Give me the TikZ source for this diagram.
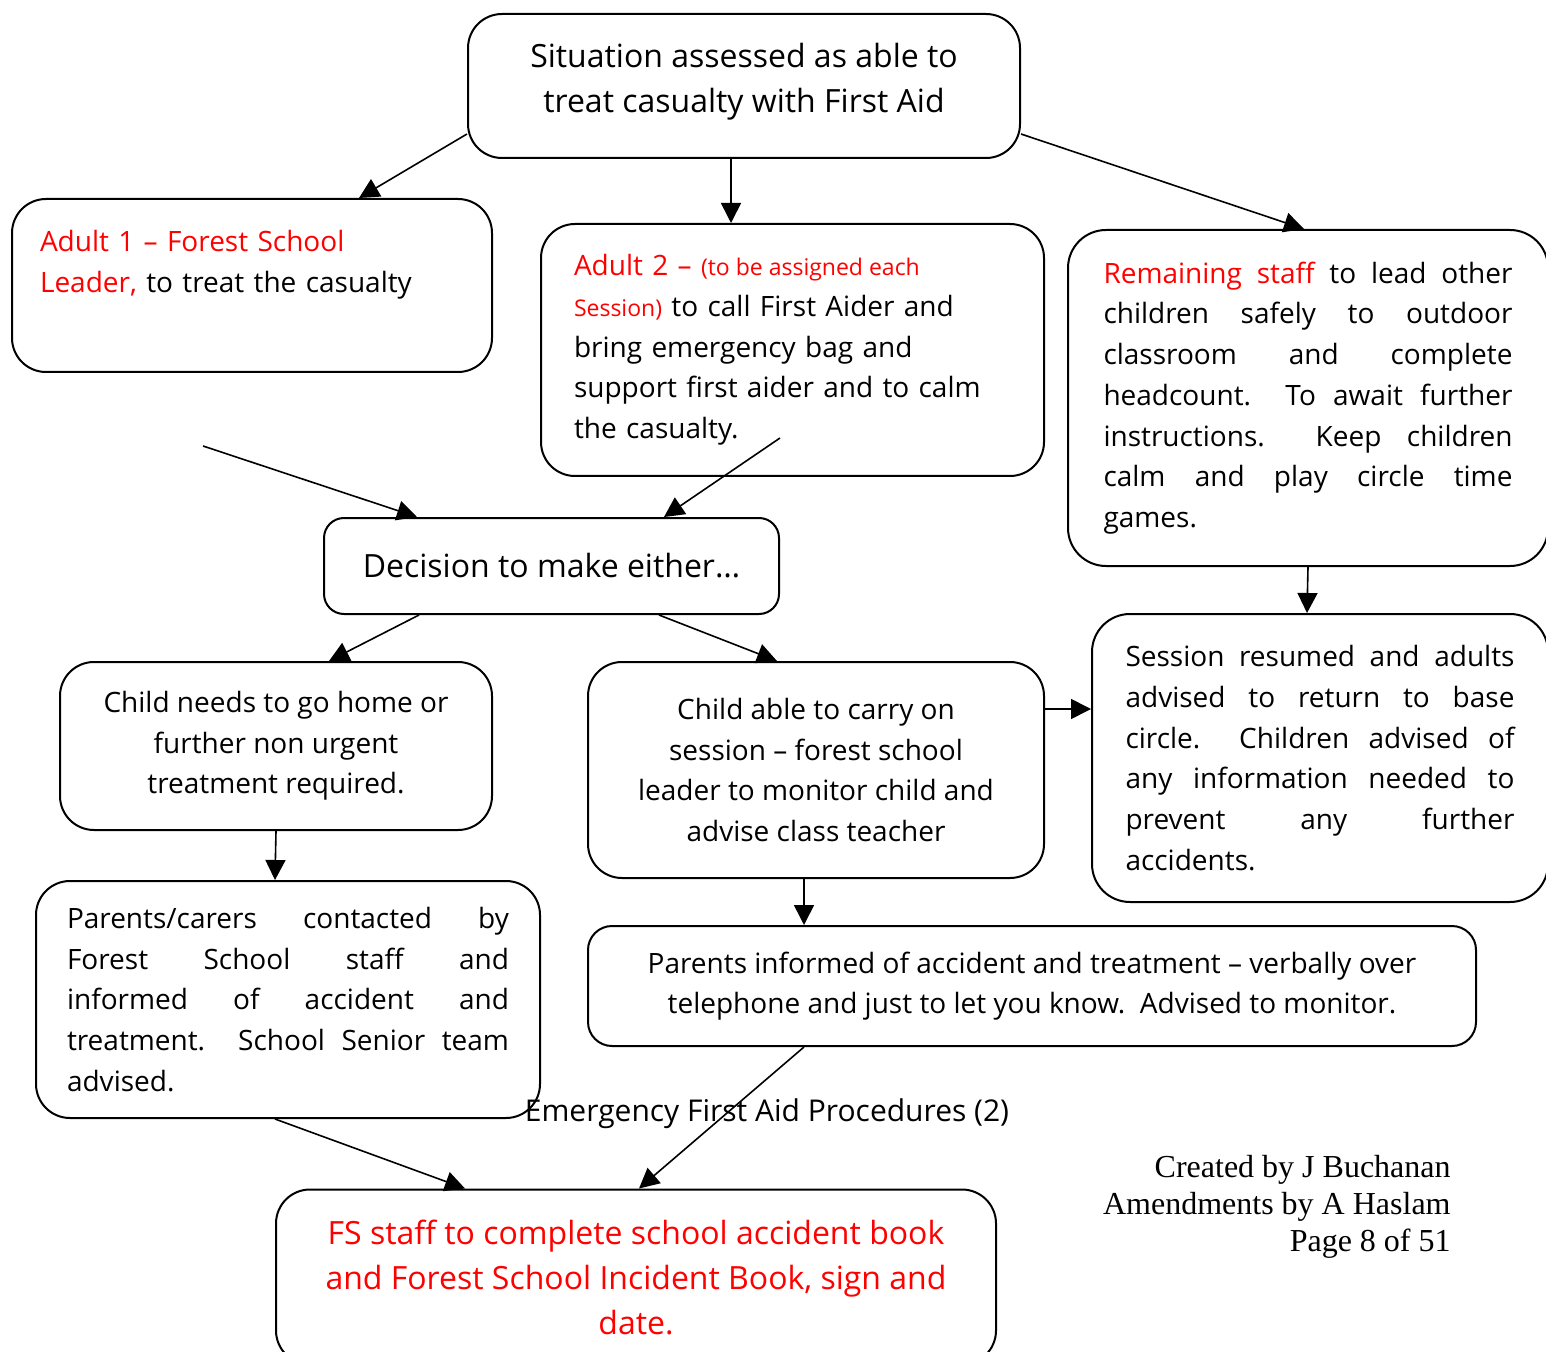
\documentclass[tikz,border=0pt]{standalone}
\usepackage{fontspec}
\setmainfont{Open Sans}
\newfontfamily\timesfont{Liberation Serif}
\usetikzlibrary{arrows.meta,calc}

\newcommand\bodyfont{\fontsize{14}{20.35}\selectfont}
\newcommand\bigfont{\fontsize{16}{22.5}\selectfont}
\newcommand\smallred{\color{red}\fontsize{11.5}{20.35}\selectfont\spaceskip=0pt\relax}

\begin{document}
\begin{tikzpicture}[x=0.5pt,y=-0.5pt,
  flowbox/.style={draw,line width=1pt,rounded corners=17pt,inner sep=0pt,font=\bodyfont},
  flowarrow/.style={-{Triangle[length=10pt,width=10pt]},line width=0.8pt}]
\useasboundingbox (0,0) rectangle (1546,1352);
% boxes
\node[flowbox,minimum width=276pt,minimum height=72pt,align=center,font=\bigfont] (Sit) at (744,86) {Situation assessed as able to\\treat casualty with First Aid\\[-14pt]~};
\node[flowbox,minimum width=240pt,minimum height=86.5pt,text width=212pt,align=left] (AdA) at (252,285.5) {{\color{red}Adult 1 -- Forest School}\\{\color{red}Leader,} to treat the casualty\\[4pt]~};
\node[flowbox,minimum width=251.5pt,minimum height=126pt,text width=218.5pt,align=left] (AdB) at (792.5,350) {{\color{red}Adult 2 -- }{\smallred(to be assigned each}\\{\smallred Session)} to call First Aider and\\bring emergency bag and\\support first aider and to calm\\the casualty.};
\node[flowbox,rounded corners=19pt,minimum width=240pt,minimum height=168pt,text width=204.5pt,align=justify] (Rem) at (1308,398) {{\color{red}Remaining staff} to lead other\linebreak children safely to outdoor\linebreak classroom and complete\linebreak headcount.\ \ To await further\linebreak instructions.\ \ Keep children\linebreak calm and play circle time\linebreak games.};
\node[flowbox,rounded corners=10pt,minimum width=227.5pt,minimum height=48pt,font=\bigfont] (Dec) at (551.5,566) {Decision to make either…};
\node[flowbox,minimum width=216pt,minimum height=84pt,align=center] (Home) at (276,746) {Child needs to go home or\\further non urgent\\treatment required.};
\node[flowbox,minimum width=228pt,minimum height=108pt,align=center] (Carry) at (816,770) {Child able to carry on\\session -- forest school\\leader to monitor child and\\advise class teacher};
\node[flowbox,rounded corners=19pt,minimum width=228pt,minimum height=144pt,text width=194.5pt,align=justify] (Sess) at (1320,758) {Session resumed and adults\linebreak advised to return to base\linebreak circle.\ \ Children advised of\linebreak any information needed to\linebreak prevent any further\linebreak accidents.};
\node[flowbox,minimum width=252pt,minimum height=118.5pt,text width=221pt,align=justify] (Carers) at (288,999.5) {Parents/carers contacted by\linebreak Forest School staff and\linebreak informed of accident and\linebreak treatment.\ \ School Senior team\linebreak advised.};
\node[flowbox,rounded corners=12pt,minimum width=444pt,minimum height=60pt,align=center] (Inform) at (1032,986) {Parents informed of accident and treatment -- verbally over\\telephone and just to let you know.\ \ Advised to monitor.};
\node[flowbox,minimum width=360pt,minimum height=87.5pt,align=center,font=\bigfont,text=red] (FS) at (636,1277) {FS staff to complete school accident book\\and Forest School Incident Book, sign and\\date.};
% footer
\node[font=\fontsize{15}{17}\selectfont] (Title) at (767,1114) {Emergency First Aid Procedures (2)};
\node[anchor=north east,inner sep=0pt,align=right,font={\timesfont\fontsize{16}{18.5}\selectfont}] (Cred) at (1451,1155) {Created by J Buchanan\\Amendments by A Haslam\\Page 8 of 51};
% loose ends
\coordinate (fa) at (203,446);
\coordinate (fb) at (780,438);
% arrows
\draw[flowarrow] ($(Sit.south west)+(0,-25)$) -- ($(AdA.north west)+(348,0)$);
\draw[flowarrow] ($(Sit.south west)+(264,0)$) -- ($(AdB.north west)+(191,0)$);
\draw[flowarrow] ($(Sit.south east)+(0,-25)$) -- ($(Rem.north west)+(237,0)$);
\draw[flowarrow] (fa) -- ($(Dec.north west)+(94,0)$);
\draw[flowarrow] (fb) -- ($(Dec.north west)+(341,0)$);
\draw[flowarrow] (Rem.south) -- ($(Sess.north west)+(216,0)$);
\draw[flowarrow] ($(Dec.south west)+(96,0)$) -- ($(Home.north west)+(270,0)$);
\draw[flowarrow] ($(Dec.south west)+(336,0)$) -- ($(Carry.north west)+(190,0)$);
\draw[flowarrow] (Home.south) -- ($(Carers.north west)+(240,0)$);
\draw[flowarrow] ($(Carry.north east)+(0,48)$) -- ($(Sess.north west)+(0,96)$);
\draw[flowarrow] ($(Carry.south west)+(217,0)$) -- ($(Inform.north west)+(217,0)$);
\draw[flowarrow] ($(Carers.south west)+(240,0)$) -- ($(FS.north west)+(190,0)$);
\draw[flowarrow] ($(Inform.south west)+(217,0)$) -- ($(FS.north west)+(364,0)$);
\end{tikzpicture}
\end{document}
